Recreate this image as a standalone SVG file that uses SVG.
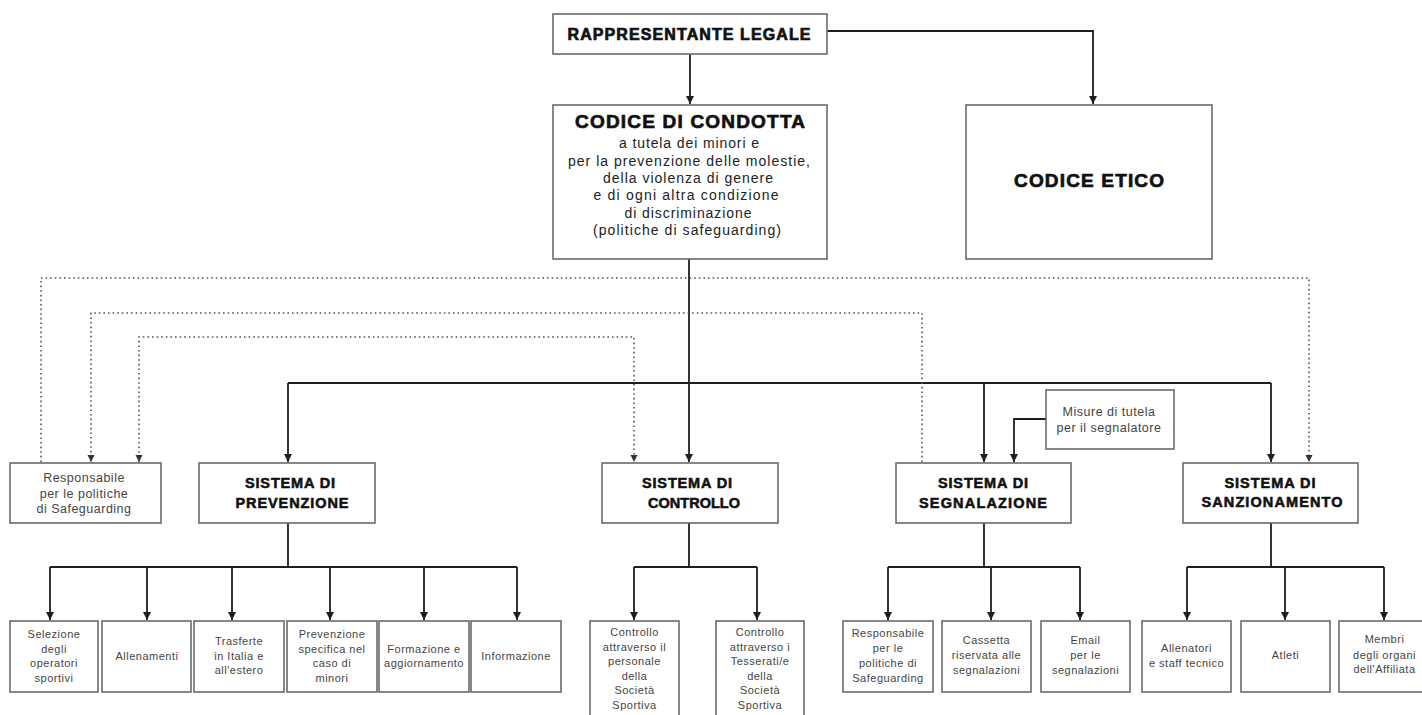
<svg xmlns="http://www.w3.org/2000/svg" width="1422" height="715" viewBox="0 0 1422 715">
<style>
  .box { fill: #fff; stroke: #6a6a6a; stroke-width: 1.6; }
  .conn { fill: none; stroke: #1e1e1e; stroke-width: 1.8; }
  .dot { fill: none; stroke: #555; stroke-width: 1.6; stroke-dasharray: 1.6 3; }
  .h { font-family: "Liberation Sans", Arial, sans-serif; font-weight: bold; fill: #111; stroke: #111; stroke-width: 0.7; text-anchor: middle; }
  .h1 { font-size: 16px; }
  .h2 { font-size: 19px; }
  .h3 { font-size: 14.5px; stroke-width: 0.55; }
  .sub { font-family: "Liberation Sans", Arial, sans-serif; font-size: 14px; fill: #222; text-anchor: middle; }
  .t { font-family: "Liberation Sans", Arial, sans-serif; font-size: 11px; letter-spacing: 0.5px; fill: #444; text-anchor: middle; }
  .t2 { font-family: "Liberation Sans", Arial, sans-serif; font-size: 12.5px; letter-spacing: 0.5px; fill: #444; text-anchor: middle; }
</style>
<defs>
  <marker id="arr" markerUnits="userSpaceOnUse" markerWidth="9" markerHeight="8" refX="8" refY="4" orient="auto-start-reverse">
    <path d="M0,0 L8,4 L0,8 z" fill="#1e1e1e"/>
  </marker>
  <marker id="arrd" markerUnits="userSpaceOnUse" markerWidth="8" markerHeight="8" refX="7" refY="3.5" orient="auto-start-reverse">
    <path d="M0,0 L7,3.5 L0,7 z" fill="#333"/>
  </marker>
</defs>
<rect width="1422" height="715" fill="#fff"/>

<g id="connectors">
  <path class="conn" d="M690,54 V104" marker-end="url(#arr)"/>
  <path class="conn" d="M827,31 H1093 V104" marker-end="url(#arr)"/>
  <path class="conn" d="M689,259 V462" marker-end="url(#arr)"/>
  <path class="conn" d="M288,383 H1271"/>
  <path class="conn" d="M288,383 V462" marker-end="url(#arr)"/>
  <path class="conn" d="M984,383 V462" marker-end="url(#arr)"/>
  <path class="conn" d="M1271,383 V462" marker-end="url(#arr)"/>
  <path class="conn" d="M1046,419 H1014 V462" marker-end="url(#arr)"/>

  <path class="conn" d="M288,523 V567 M50,567 H517"/>
  <path class="conn" d="M50,567 V620" marker-end="url(#arr)"/>
  <path class="conn" d="M147,567 V620" marker-end="url(#arr)"/>
  <path class="conn" d="M232,567 V620" marker-end="url(#arr)"/>
  <path class="conn" d="M330,567 V620" marker-end="url(#arr)"/>
  <path class="conn" d="M424,567 V620" marker-end="url(#arr)"/>
  <path class="conn" d="M517,567 V620" marker-end="url(#arr)"/>

  <path class="conn" d="M689,523 V567 M634,567 H757"/>
  <path class="conn" d="M634,567 V620" marker-end="url(#arr)"/>
  <path class="conn" d="M757,567 V620" marker-end="url(#arr)"/>

  <path class="conn" d="M984,523 V567 M888,567 H1080"/>
  <path class="conn" d="M888,567 V620" marker-end="url(#arr)"/>
  <path class="conn" d="M991,567 V620" marker-end="url(#arr)"/>
  <path class="conn" d="M1080,567 V620" marker-end="url(#arr)"/>

  <path class="conn" d="M1271,523 V567 M1187,567 H1384"/>
  <path class="conn" d="M1187,567 V620" marker-end="url(#arr)"/>
  <path class="conn" d="M1285,567 V620" marker-end="url(#arr)"/>
  <path class="conn" d="M1384,567 V620" marker-end="url(#arr)"/>

  <path class="dot" d="M41,462 V278 H1309 V462" marker-end="url(#arrd)"/>
  <path class="dot" d="M922,462 V313 H91 V462" marker-end="url(#arrd)"/>
  <path class="dot" d="M139,462 V337 H634 V462" marker-start="url(#arrd)" marker-end="url(#arrd)"/>
</g>

<g id="rappresentante">
  <rect class="box" x="553" y="14" width="274" height="40"/>
  <text class="h h1" x="689" y="40" textLength="243">RAPPRESENTANTE LEGALE</text>
</g>

<g id="codice-condotta">
  <rect class="box" x="553" y="105" width="274" height="154"/>
  <text class="h h2" x="690" y="128" textLength="230">CODICE DI CONDOTTA</text>
  <text class="sub" x="689" y="148" textLength="140">a tutela dei minori e</text>
  <text class="sub" x="689" y="165.5" textLength="242">per la prevenzione delle molestie,</text>
  <text class="sub" x="688" y="183" textLength="170">della violenza di genere</text>
  <text class="sub" x="686" y="200" textLength="185">e di ogni altra condizione</text>
  <text class="sub" x="688" y="217.5" textLength="127">di discriminazione</text>
  <text class="sub" x="687" y="235" textLength="188">(politiche di safeguarding)</text>
</g>

<g id="codice-etico">
  <rect class="box" x="966" y="105" width="246" height="154"/>
  <text class="h h2" x="1089" y="187" textLength="150">CODICE ETICO</text>
</g>

<g id="responsabile">
  <rect class="box" x="10" y="463" width="151" height="60"/>
  <text class="t2" x="84" y="482">Responsabile</text>
  <text class="t2" x="84" y="497.5">per le politiche</text>
  <text class="t2" x="84" y="513">di Safeguarding</text>
</g>

<g id="prevenzione">
  <rect class="box" x="199" y="463" width="176" height="60"/>
  <text class="h h3" x="290" y="488" textLength="90">SISTEMA DI</text>
  <text class="h h3" x="292" y="507.5" textLength="113">PREVENZIONE</text>
</g>

<g id="controllo">
  <rect class="box" x="602" y="463" width="176" height="60"/>
  <text class="h h3" x="687" y="488" textLength="90">SISTEMA DI</text>
  <text class="h h3" x="694" y="507.5" textLength="92">CONTROLLO</text>
</g>

<g id="segnalazione">
  <rect class="box" x="896" y="463" width="175" height="60"/>
  <text class="h h3" x="983" y="488" textLength="90">SISTEMA DI</text>
  <text class="h h3" x="983" y="507.5" textLength="128">SEGNALAZIONE</text>
</g>

<g id="misure">
  <rect class="box" x="1046" y="390" width="128" height="59"/>
  <text class="t2" x="1109" y="416">Misure di tutela</text>
  <text class="t2" x="1109" y="432">per il segnalatore</text>
</g>

<g id="sanzionamento">
  <rect class="box" x="1183" y="463" width="175" height="60"/>
  <text class="h h3" x="1270" y="487.5" textLength="91">SISTEMA DI</text>
  <text class="h h3" x="1272" y="506.5" textLength="141">SANZIONAMENTO</text>
</g>

<g id="selezione">
  <rect class="box" x="10" y="621" width="88" height="71"/>
  <text class="t" x="54" y="638">Selezione</text>
  <text class="t" x="54" y="652.5">degli</text>
  <text class="t" x="54" y="667">operatori</text>
  <text class="t" x="54" y="681.5">sportivi</text>
</g>
<g id="allenamenti">
  <rect class="box" x="102" y="621" width="89" height="71"/>
  <text class="t" x="147" y="660">Allenamenti</text>
</g>
<g id="trasferte">
  <rect class="box" x="194" y="621" width="90" height="71"/>
  <text class="t" x="239" y="645">Trasferte</text>
  <text class="t" x="239" y="659.5">in Italia e</text>
  <text class="t" x="239" y="674">all'estero</text>
</g>
<g id="prevenzione-minori">
  <rect class="box" x="287" y="621" width="90" height="71"/>
  <text class="t" x="332" y="638">Prevenzione</text>
  <text class="t" x="332" y="652.5">specifica nel</text>
  <text class="t" x="332" y="667">caso di</text>
  <text class="t" x="332" y="681.5">minori</text>
</g>
<g id="formazione">
  <rect class="box" x="379" y="621" width="90" height="71"/>
  <text class="t" x="424" y="652.5">Formazione e</text>
  <text class="t" x="424" y="667">aggiornamento</text>
</g>
<g id="informazione">
  <rect class="box" x="471" y="621" width="90" height="71"/>
  <text class="t" x="516" y="660">Informazione</text>
</g>

<g id="controllo-personale">
  <rect class="box" x="590" y="621" width="89" height="110"/>
  <text class="t" x="634.5" y="636">Controllo</text>
  <text class="t" x="634.5" y="650.5">attraverso il</text>
  <text class="t" x="634.5" y="665">personale</text>
  <text class="t" x="634.5" y="679.5">della</text>
  <text class="t" x="634.5" y="694">Società</text>
  <text class="t" x="634.5" y="708.5">Sportiva</text>
</g>
<g id="controllo-tesserati">
  <rect class="box" x="716" y="621" width="88" height="110"/>
  <text class="t" x="760" y="636">Controllo</text>
  <text class="t" x="760" y="650.5">attraverso i</text>
  <text class="t" x="760" y="665">Tesserati/e</text>
  <text class="t" x="760" y="679.5">della</text>
  <text class="t" x="760" y="694">Società</text>
  <text class="t" x="760" y="708.5">Sportiva</text>
</g>

<g id="responsabile-segn">
  <rect class="box" x="843" y="621" width="90" height="71"/>
  <text class="t" x="888" y="637">Responsabile</text>
  <text class="t" x="888" y="651.5">per le</text>
  <text class="t" x="888" y="666.5">politiche di</text>
  <text class="t" x="888" y="681.5">Safeguarding</text>
</g>
<g id="cassetta">
  <rect class="box" x="942" y="621" width="89" height="71"/>
  <text class="t" x="986.5" y="644">Cassetta</text>
  <text class="t" x="986.5" y="659">riservata alle</text>
  <text class="t" x="986.5" y="673.5">segnalazioni</text>
</g>
<g id="email">
  <rect class="box" x="1041" y="621" width="89" height="71"/>
  <text class="t" x="1085.5" y="644">Email</text>
  <text class="t" x="1085.5" y="659">per le</text>
  <text class="t" x="1085.5" y="673.5">segnalazioni</text>
</g>

<g id="allenatori">
  <rect class="box" x="1142" y="621" width="89" height="71"/>
  <text class="t" x="1186.5" y="652">Allenatori</text>
  <text class="t" x="1186.5" y="667">e staff tecnico</text>
</g>
<g id="atleti">
  <rect class="box" x="1241" y="621" width="89" height="71"/>
  <text class="t" x="1285.5" y="659">Atleti</text>
</g>
<g id="membri">
  <rect class="box" x="1339" y="621" width="92" height="71"/>
  <text class="t" x="1384.5" y="643">Membri</text>
  <text class="t" x="1384.5" y="658.5">degli organi</text>
  <text class="t" x="1384.5" y="673">dell'Affiliata</text>
</g>
</svg>
